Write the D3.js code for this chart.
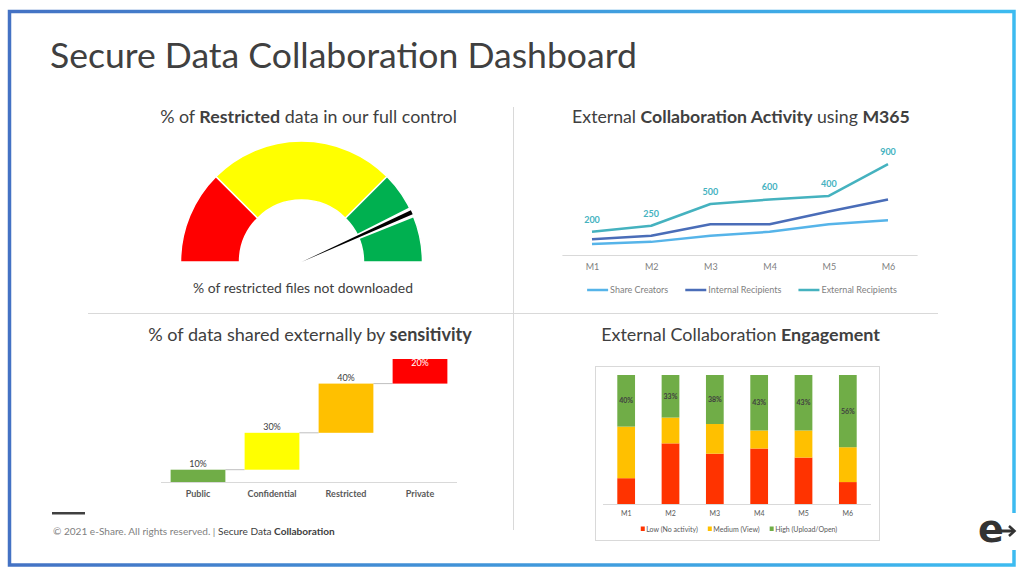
<!DOCTYPE html>
<html><head><meta charset="utf-8">
<script src="https://cdn.jsdelivr.net/npm/d3@7"></script>
<style>html,body{margin:0;padding:0;background:#fff;} svg{display:block;font-family:Lato,"Open Sans",sans-serif;}</style>
</head><body><svg id="c" width="1024" height="576"></svg>
<script>
// ---------- data ----------
const gaugeBands = ["Low", "Medium", "High"];
const gaugeShares = [25, 50, 25];
const gaugeNeedle = 86.5;

const months = ["M1", "M2", "M3", "M4", "M5", "M6"];
const shareCreators = [110, 130, 190, 230, 305, 345];
const internalRecipients = [155, 190, 305, 305, 430, 550];
const externalRecipients = [230, 290, 505, 550, 585, 900];
const externalLabels = [200, 250, 500, 600, 400, 900];
const lineSeriesNames = ["Share Creators", "Internal Recipients", "External Recipients"];

const sensitivity = ["Public", "Confidential", "Restricted", "Private"];
const sharedPct = [10, 30, 40, 20];

const lowActivity = [20, 47, 39, 43, 36, 17];
const mediumActivity = [40, 20, 23, 14, 21, 27];
const highActivity = [40, 33, 38, 43, 43, 56];
const engagementNames = ["Low (No activity)", "Medium (View)", "High (Upload/Open)"];

// ---------- helpers ----------
const svg = d3.select("#c");
const TXT = "#404040", GRAY = "#595959";
function rich(g, x, y, parts, size, anchor, fill) {
  const t = g.append("text").attr("x", x).attr("y", y).attr("font-size", size)
    .attr("text-anchor", anchor || "start").attr("fill", fill || TXT);
  parts.forEach(([s, b, col]) => t.append("tspan").text(s).attr("font-weight", b ? 700 : 400).attr("fill", col || null));
  return t;
}
function fit(t, target) {
  const w = t.node().getComputedTextLength();
  t.attr("font-size", (+t.attr("font-size")) * target / w);
  return t;
}

svg.append("rect").attr("width", 1024).attr("height", 576).attr("fill", "#fff");

// ---------- frame ----------
const defs = svg.append("defs");
const grad = defs.append("linearGradient").attr("id", "fg").attr("gradientUnits", "userSpaceOnUse")
  .attr("x1", 9).attr("x2", 1015).attr("y1", 0).attr("y2", 0);
grad.append("stop").attr("offset", 0).attr("stop-color", "#4472c4");
grad.append("stop").attr("offset", 1).attr("stop-color", "#3dbbf0");
svg.append("rect").attr("x", 9.5).attr("y", 11.5).attr("width", 1004.5).attr("height", 553.5)
  .attr("fill", "none").attr("stroke", "url(#fg)").attr("stroke-width", 3.5);
svg.append("rect").attr("x", 1006).attr("y", 513).attr("width", 14).attr("height", 37).attr("fill", "#fff");

// title
fit(rich(svg, 50, 68, [["Secure Data Collaboration Dashboard", false]], 36, "start", TXT), 587);

// dividers
svg.append("line").attr("x1", 513.5).attr("x2", 513.5).attr("y1", 107).attr("y2", 530).attr("stroke", "#d9d9d9");
svg.append("line").attr("x1", 88).attr("x2", 938).attr("y1", 313.5).attr("y2", 313.5).attr("stroke", "#d9d9d9");

// section titles
fit(rich(svg, 308.5, 123, [["% of ", false], ["Restricted", true], [" data in our full control", false]], 18, "middle"), 297);
fit(rich(svg, 741, 123, [["External ", false], ["Collaboration Activity", true], [" using ", false], ["M365", true]], 18, "middle"), 338);
fit(rich(svg, 310, 341, [["% of data shared externally by ", false], ["sensitivity", true]], 18, "middle"), 324);
fit(rich(svg, 740.5, 341, [["External Collaboration ", false], ["Engagement", true]], 18, "middle"), 279);

// ---------- gauge ----------
{
  const g = svg.append("g").attr("transform", "translate(301.5,262)");
  const ang = d3.scaleLinear([0, 100], [-Math.PI / 2, Math.PI / 2]);
  const colors = ["#ff0000", "#ffff00", "#00b050"];
  let acc = 0;
  const segs = gaugeShares.map((v, i) => { const s = { name: gaugeBands[i], a0: ang(acc), a1: ang(acc + v), c: colors[i] }; acc += v; return s; });
  const arc = d3.arc().innerRadius(62).outerRadius(121);
  g.selectAll("path.seg").data(segs).join("path").attr("class", "seg")
    .attr("d", d => arc({ startAngle: d.a0, endAngle: d.a1 }))
    .attr("fill", d => d.c).attr("stroke", "#fff").attr("stroke-width", 1.5);
  const na = ang(gaugeNeedle);
  // white gap around the needle inside the ring
  g.append("path").attr("d", d3.arc().innerRadius(55).outerRadius(123)({ startAngle: na - 0.045, endAngle: na + 0.045 }))
    .attr("fill", "#fff");
  g.append("path").attr("d", d3.arc().innerRadius(0).outerRadius(121)({ startAngle: na - 0.018, endAngle: na + 0.018 }))
    .attr("fill", "#000");
  fit(rich(svg, 303, 293, [["% of restricted files not downloaded", false]], 14, "middle"), 220);
}

// ---------- line chart ----------
{
  const lx = d3.scalePoint(months, [592, 888]);
  const ly = d3.scaleLinear([0, 1000], [255, 154]);
  const half = lx.step() / 2;
  svg.append("line").attr("x1", lx("M1") - half).attr("x2", lx("M6") + half).attr("y1", 255.5).attr("y2", 255.5).attr("stroke", "#d9d9d9");
  const ax = svg.append("g").attr("transform", "translate(0,255)")
    .call(d3.axisBottom(lx).tickSize(0).tickPadding(9));
  ax.select(".domain").remove();
  ax.selectAll("text").attr("font-size", 9).attr("fill", "#7f7f7f").attr("font-family", "Lato");
  const series = [
    { name: lineSeriesNames[0], vals: shareCreators, c: "#56b4e9" },
    { name: lineSeriesNames[1], vals: internalRecipients, c: "#4a6db8" },
    { name: lineSeriesNames[2], vals: externalRecipients, c: "#45b2bf" }
  ];
  const line = d3.line().x((d, i) => lx(months[i])).y(d => ly(d));
  svg.selectAll("path.ln").data(series).join("path").attr("class", "ln")
    .attr("d", d => line(d.vals)).attr("fill", "none").attr("stroke", d => d.c)
    .attr("stroke-width", 2.5).attr("stroke-linejoin", "round");
  svg.selectAll("text.dl").data(externalRecipients).join("text").attr("class", "dl")
    .attr("x", (d, i) => lx(months[i])).attr("y", d => ly(d) - 9).attr("text-anchor", "middle")
    .attr("font-size", 9).attr("font-weight", 700).attr("fill", "#45b2bf")
    .text((d, i) => externalLabels[i]);
  const lg = svg.append("g");
  let x = 0;
  series.forEach((s, i) => {
    lg.append("line").attr("x1", x).attr("x2", x + 21).attr("y1", 0).attr("y2", 0).attr("stroke", s.c).attr("stroke-width", 2.5);
    const t = lg.append("text").attr("x", x + 23).attr("y", 3.2).attr("font-size", 9).attr("fill", "#7f7f7f").text(s.name);
    x += 23 + t.node().getComputedTextLength() + 17;
  });
  const lw = x - 17;
  lg.attr("transform", `translate(${742 - lw / 2},290)`);
}

// ---------- waterfall ----------
{
  const wx = d3.scaleBand(sensitivity, [161, 457]).paddingInner(0.26).paddingOuter(0.13);
  const wy = d3.scaleLinear([0, 100], [482, 359]);
  let acc = 0;
  const rows = sensitivity.map((c, i) => { const r = { c, v: sharedPct[i], s: acc, e: acc + sharedPct[i] }; acc += sharedPct[i]; return r; });
  const colors = ["#70ad47", "#ffff00", "#ffc000", "#ff0000"];
  rows.slice(0, -1).forEach((r, i) => {
    svg.append("line").attr("x1", wx(r.c) + wx.bandwidth()).attr("x2", wx(rows[i + 1].c))
      .attr("y1", wy(r.e)).attr("y2", wy(r.e)).attr("stroke", "#bfbfbf").attr("stroke-width", 1);
  });
  svg.append("line").attr("x1", 161).attr("x2", 457).attr("y1", 482.5).attr("y2", 482.5).attr("stroke", "#d9d9d9");
  svg.selectAll("rect.wf").data(rows).join("rect").attr("class", "wf")
    .attr("x", d => wx(d.c)).attr("width", wx.bandwidth())
    .attr("y", d => wy(d.e)).attr("height", d => wy(d.s) - wy(d.e))
    .attr("fill", (d, i) => colors[i]);
  svg.selectAll("text.wl").data(rows).join("text").attr("class", "wl")
    .each(function (d) {
      const top = wy(d.e);
      const y = Math.max(top - 3, wy(100) + 7);
      d3.select(this).attr("x", wx(d.c) + wx.bandwidth() / 2).attr("y", y)
        .attr("fill", y > top ? "#fff" : TXT);
    })
    .attr("text-anchor", "middle").attr("font-size", 9).text(d => d.v + "%");
  const ax = svg.append("g").attr("transform", "translate(0,482)")
    .call(d3.axisBottom(wx).tickSize(0).tickPadding(9));
  ax.select(".domain").remove();
  ax.selectAll("text").attr("font-size", 9).attr("font-weight", 700).attr("fill", GRAY).attr("font-family", "Lato");
}

// ---------- stacked bars ----------
{
  svg.append("rect").attr("x", 595.5).attr("y", 366.5).attr("width", 284).attr("height", 174)
    .attr("fill", "none").attr("stroke", "#d9d9d9");
  const sx = d3.scaleBand(months, [604, 870]).paddingInner(0.6).paddingOuter(0.3);
  const sy = d3.scaleLinear([0, 100], [504, 375]);
  const table = months.map((m, i) => ({ m, low: lowActivity[i], medium: mediumActivity[i], high: highActivity[i] }));
  const keys = ["low", "medium", "high"];
  const colors = { low: "#ff3300", medium: "#ffc000", high: "#70ad47" };
  const stacked = d3.stack().keys(keys)(table);
  svg.append("line").attr("x1", 603).attr("x2", 871).attr("y1", 504.5).attr("y2", 504.5).attr("stroke", "#d9d9d9");
  stacked.forEach(layer => {
    svg.selectAll(null).data(layer).join("rect")
      .attr("x", d => sx(d.data.m)).attr("width", sx.bandwidth())
      .attr("y", d => sy(d[1])).attr("height", d => sy(d[0]) - sy(d[1]))
      .attr("fill", colors[layer.key]);
  });
  const hi = stacked[2];
  svg.selectAll("text.hl").data(hi).join("text").attr("class", "hl")
    .attr("x", d => sx(d.data.m) + sx.bandwidth() / 2).attr("y", d => (sy(d[0]) + sy(d[1])) / 2 + 2.5)
    .attr("text-anchor", "middle").attr("font-size", 7).attr("font-weight", 700).attr("fill", TXT)
    .text(d => d.data.high + "%");
  const ax = svg.append("g").attr("transform", "translate(0,504)")
    .call(d3.axisBottom(sx).tickSize(0).tickPadding(7));
  ax.select(".domain").remove();
  ax.selectAll("text").attr("font-size", 7).attr("fill", GRAY).attr("font-family", "Lato");
  const lg = svg.append("g");
  let x = 0;
  keys.forEach((k, i) => {
    lg.append("rect").attr("x", x).attr("y", -2.5).attr("width", 4).attr("height", 4.5).attr("fill", colors[k]);
    const t = lg.append("text").attr("x", x + 5.5).attr("y", 2.5).attr("font-size", 7).attr("fill", GRAY).text(engagementNames[i]);
    x += 5.5 + t.node().getComputedTextLength() + 10;
  });
  lg.attr("transform", `translate(${739 - (x - 10) / 2},529)`);
}

// ---------- footer ----------
svg.append("rect").attr("x", 52).attr("y", 512).attr("width", 33).attr("height", 2.5).attr("fill", TXT);
fit(rich(svg, 53, 535, [["© 2021 e-Share. All rights reserved. | ", false, "#7f7f7f"], ["Secure Data ", false, TXT], ["Collaboration", true, TXT]], 10, "start"), 282);

// logo
svg.append("text").attr("x", 978).attr("y", 542).attr("font-family", "DejaVu Sans").attr("font-weight", 700)
  .attr("font-size", 38).attr("fill", "#333").text("e");
svg.append("line").attr("x1", 998).attr("x2", 1014).attr("y1", 531).attr("y2", 531).attr("stroke", "#333").attr("stroke-width", 3);
svg.append("path").attr("d", "M1009,526 L1014.5,531 L1009,536").attr("fill", "none").attr("stroke", "#333").attr("stroke-width", 2.5);
</script></body></html>
